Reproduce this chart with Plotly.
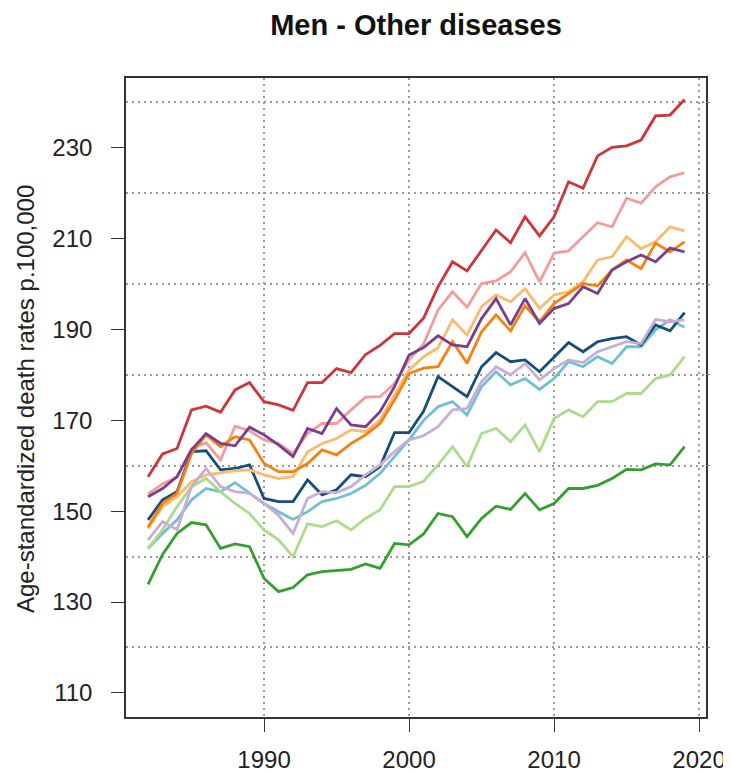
import plotly.graph_objects as go

years = list(range(1982, 2020))

red = [157.6,162.6,163.8,172.3,173.1,171.8,176.7,178.3,174.1,173.4,
       172.2,178.3,178.3,181.4,180.5,184.5,186.5,189.1,189.1,192.5,
       199.4,204.9,202.9,207.4,211.9,209.1,214.8,210.6,214.8,222.5,
       221.1,228.2,230.1,230.4,231.7,237.0,237.2,240.6]
pink = [153.8,156.0,157.5,163.8,165.1,161.3,168.7,167.7,165.7,164.9,
        162.7,167.1,169.3,169.3,172.3,175.1,175.2,178.1,183.3,186.8,
        194.3,198.3,194.9,200.1,200.7,202.7,206.9,200.5,206.8,207.3,
        210.4,213.5,212.6,218.9,217.8,221.4,223.6,224.5]
light_orange = [146.2,151.0,153.2,156.5,158.0,158.5,158.9,159.1,158.0,157.2,
                157.6,163.1,164.9,166.0,167.9,167.5,170.1,175.6,181.1,184.0,
                186.0,192.1,188.8,195.0,197.6,196.1,199.0,194.6,197.6,198.3,
                200.5,205.3,206.0,210.4,207.8,209.3,212.6,211.7]
orange = [146.5,151.7,153.9,162.7,166.8,164.2,166.4,165.7,160.5,158.7,
          158.7,160.5,163.5,162.4,164.9,166.8,169.3,174.5,180.3,181.5,
          181.8,187.3,182.6,189.5,193.2,189.7,195.2,191.7,195.7,198.0,
          200.1,199.6,203.1,205.3,203.4,209.0,207.1,209.3]
purple = [153.2,155.0,157.6,163.5,167.1,164.9,164.4,168.5,166.8,164.6,
          162.0,168.2,167.1,172.6,169.0,168.6,171.9,177.4,184.4,186.0,
          188.6,186.6,186.2,192.4,196.8,191.0,196.8,191.3,194.6,195.7,
          199.4,197.9,203.1,204.9,206.4,204.9,207.9,207.1]
navy = [148.1,152.5,154.3,163.1,163.3,159.1,159.4,160.2,152.8,152.1,
        152.1,156.9,153.6,154.7,158.0,157.6,159.8,167.3,167.3,172.0,
        179.6,177.4,175.2,181.8,184.9,182.9,183.3,180.7,183.8,187.1,
        185.1,187.3,188.0,188.4,186.6,191.0,189.7,193.7]
light_purple = [143.7,147.7,145.9,155.4,159.4,155.4,154.3,153.9,151.7,149.1,
                145.1,152.8,154.3,154.1,155.4,158.0,160.2,163.1,165.7,166.6,
                168.6,172.3,172.6,178.5,181.8,180.0,182.5,178.9,181.4,183.3,
                182.7,185.1,186.2,187.3,186.9,192.2,191.7,192.1]
cyan = [141.8,145.1,148.1,152.5,155.0,154.3,156.3,153.9,151.7,149.9,
        148.2,149.9,152.1,152.8,153.9,155.7,158.3,162.0,165.7,170.0,
        173.0,174.1,171.2,177.4,180.7,177.8,179.2,176.8,179.2,182.9,
        181.8,184.0,182.5,186.2,186.2,189.9,192.1,190.5]
light_green = [141.8,145.9,151.0,155.4,157.2,154.3,151.7,149.5,145.9,143.7,
               140.0,147.2,146.6,147.9,145.9,148.4,150.3,155.4,155.4,156.6,
               160.2,164.2,159.8,167.1,168.2,165.3,169.0,163.1,170.4,172.3,
               170.8,174.1,174.1,175.9,175.9,179.2,180.0,184.0]
green = [133.9,140.5,145.1,147.5,147.0,141.8,142.8,142.2,135.2,132.3,
         133.2,136.0,136.7,136.9,137.2,138.4,137.4,142.9,142.6,145.0,
         149.5,148.8,144.4,148.4,151.1,150.4,153.9,150.3,151.7,155.0,
         155.0,155.7,157.2,159.2,159.1,160.4,160.2,164.2]

series = [
    (cyan, "#72BFD3"),
    (navy, "#154E7A"),
    (light_green, "#ADDA8B"),
    (green, "#33A02E"),
    (pink, "#F29C9B"),
    (red, "#CF343B"),
    (light_orange, "#FABB6E"),
    (orange, "#FB7F0E"),
    (light_purple, "#C6AED6"),
    (purple, "#7A3E8F"),
]

y_ticks = [110, 130, 150, 170, 190, 210, 230]
y_grid = [120, 140, 160, 180, 200, 220, 240]
x_ticks = [1990, 2000, 2010, 2020]

fig = go.Figure()
for vals, col in series:
    fig.add_trace(go.Scatter(x=years, y=vals, mode="lines",
                             line=dict(color=col, width=2.8),
                             showlegend=False, hoverinfo="skip"))

font_family = "Liberation Sans, Arial, sans-serif"
grid_dash = "1.5px,4.5px"
# page body has an 8px default margin, so the figure is sized 8px smaller
W, H = 723, 766
fig.update_layout(
    width=W, height=H,
    margin=dict(l=118, r=25, t=70, b=57, autoexpand=False),
    paper_bgcolor="white", plot_bgcolor="white",
    font=dict(family=font_family, size=24, color="#222222"),
    title=dict(text="<b>Men - Other diseases</b>", x=0.5, xref="paper",
               y=1 - 17 / H, yref="container", yanchor="middle",
               xanchor="center", automargin=False,
               font=dict(family=font_family, size=29, color="#111111")),
    xaxis=dict(range=[1980.48, 2020.48], tickvals=x_ticks, automargin=False,
               ticks="outside", ticklen=13, tickwidth=1.3, tickcolor="#333333",
               showline=True, linecolor="#333333", linewidth=1.6, mirror=True,
               showgrid=True, gridcolor="#9A9A9A", griddash=grid_dash, gridwidth=1.5,
               zeroline=False, ticklabelstandoff=7,
               tickfont=dict(size=24, color="#222222")),
    yaxis=dict(range=[104.7, 245.35], tickvals=y_ticks, automargin=False,
               ticks="outside", ticklen=13, tickwidth=1.3, tickcolor="#333333",
               showline=True, linecolor="#333333", linewidth=1.6, mirror=True,
               showgrid=False, zeroline=False, ticklabelstandoff=14,
               tickfont=dict(size=24, color="#222222"),
               minor=dict(tickmode="array", tickvals=y_grid, showgrid=True,
                          gridcolor="#9A9A9A", griddash=grid_dash, gridwidth=1.5,
                          ticks="")),
    yaxis2=dict(range=[104.7, 245.35], overlaying="y", side="right",
                tickvals=y_grid, ticks="outside", ticklen=3, tickwidth=1.3,
                tickcolor="#777777", showticklabels=False, showgrid=False,
                zeroline=False, showline=False, automargin=False),
)
# invisible trace to activate the right-hand axis
fig.add_trace(go.Scatter(x=[years[0]], y=[red[0]], yaxis="y2", mode="lines",
                         line=dict(width=0), showlegend=False, hoverinfo="skip"))

fig.add_annotation(text="Age-standardized death rates p.100,000",
                   xref="paper", yref="paper", x=(26 - 126) / 580, y=(717 - 399) / 639,
                   xanchor="center", yanchor="middle", textangle=-90,
                   showarrow=False, font=dict(family=font_family, size=24, color="#222222"))

fig.write_html("out.html")
